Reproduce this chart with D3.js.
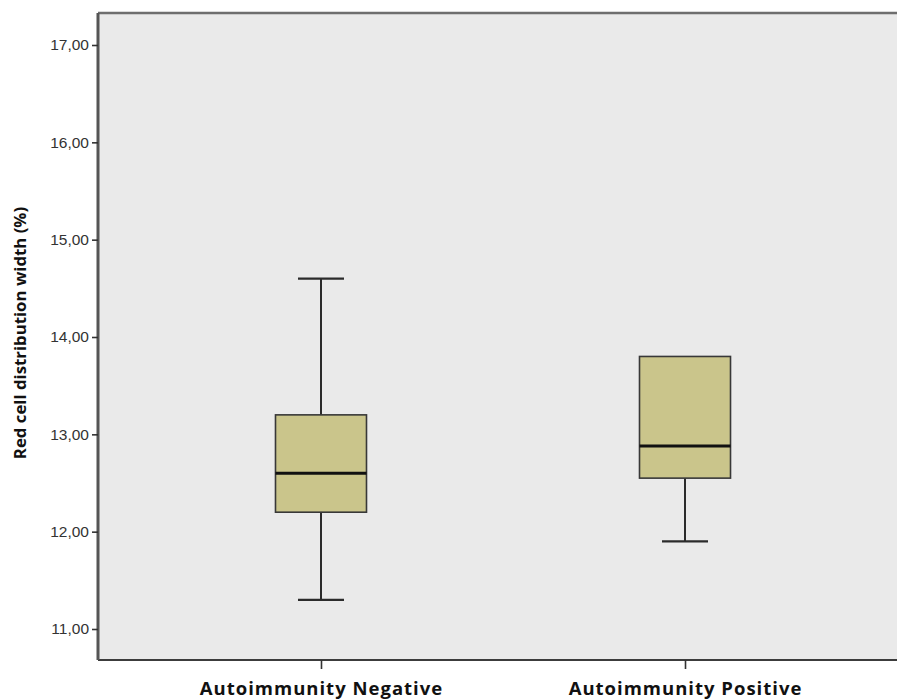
<!DOCTYPE html>
<html>
<head>
<meta charset="utf-8">
<script src="https://cdn.jsdelivr.net/npm/d3@7/dist/d3.min.js"></script>
<style>
  html, body { margin: 0; padding: 0; background: #ffffff; }
  svg { display: block; }
</style>
</head>
<body>
<svg id="chart" width="897" height="700"></svg>
<script>
// Groups and their box-plot summaries (RDW, %)
const categories = ["Autoimmunity Negative", "Autoimmunity Positive"];
const whiskerLow = [11.3, 11.9];
const q1 = [12.2, 12.55];
const median = [12.6, 12.88];
const q3 = [13.2, 13.8];
const whiskerHigh = [14.6, 13.8];
const yTicks = [11, 12, 13, 14, 15, 16, 17];
const yTitle = "Red cell distribution width (%)";

const svg = d3.select("#chart");
const plotL = 98, plotR = 908, plotT = 13, plotB = 660;

const y = d3.scaleLinear().domain([11, 17]).range([629, 45]);
const x = d3.scalePoint().domain(categories).range([plotL, plotR]).padding(0.6126);

const boxW = 91, capW = 46;

// plot background
svg.append("rect")
  .attr("x", plotL).attr("y", plotT)
  .attr("width", plotR - plotL).attr("height", plotB - plotT)
  .attr("fill", "#eaeaea");

// boxes
const data = categories.map((c, i) => ({
  c, lo: whiskerLow[i], q1: q1[i], med: median[i], q3: q3[i], hi: whiskerHigh[i]
}));

const g = svg.append("g");
data.forEach(d => {
  const cx = x(d.c);
  const grp = g.append("g");
  // whiskers
  if (d.hi > d.q3) {
    grp.append("line").attr("x1", cx).attr("x2", cx).attr("y1", y(d.q3)).attr("y2", y(d.hi))
      .attr("stroke", "#2b2b2b").attr("stroke-width", 2);
    grp.append("line").attr("x1", cx - capW / 2).attr("x2", cx + capW / 2).attr("y1", y(d.hi)).attr("y2", y(d.hi))
      .attr("stroke", "#2b2b2b").attr("stroke-width", 2.2);
  }
  if (d.lo < d.q1) {
    grp.append("line").attr("x1", cx).attr("x2", cx).attr("y1", y(d.q1)).attr("y2", y(d.lo))
      .attr("stroke", "#2b2b2b").attr("stroke-width", 2);
    grp.append("line").attr("x1", cx - capW / 2).attr("x2", cx + capW / 2).attr("y1", y(d.lo)).attr("y2", y(d.lo))
      .attr("stroke", "#2b2b2b").attr("stroke-width", 2.2);
  }
  grp.append("rect")
    .attr("x", cx - boxW / 2).attr("y", y(d.q3))
    .attr("width", boxW).attr("height", y(d.q1) - y(d.q3))
    .attr("fill", "#cac58b").attr("stroke", "#383838").attr("stroke-width", 1.6);
  grp.append("line").attr("x1", cx - boxW / 2).attr("x2", cx + boxW / 2)
    .attr("y1", y(d.med)).attr("y2", y(d.med))
    .attr("stroke", "#111").attr("stroke-width", 3);
});

// frame: top border and bottom axis line
svg.append("line").attr("x1", plotL).attr("x2", plotR).attr("y1", plotT).attr("y2", plotT)
  .attr("stroke", "#6e6e6e").attr("stroke-width", 2.5);
svg.append("line").attr("x1", plotL).attr("x2", plotR).attr("y1", plotB).attr("y2", plotB)
  .attr("stroke", "#3c3c3c").attr("stroke-width", 2);

// y axis
const yAxis = d3.axisLeft(y).tickValues(yTicks).tickSize(6).tickPadding(3)
  .tickFormat(d => d3.format(".2f")(d).replace(".", ","));
const ya = svg.append("g").attr("transform", `translate(${plotL},0)`).call(yAxis);
ya.select(".domain").attr("d", `M0,${plotT}V${plotB}`).attr("stroke", "#555").attr("stroke-width", 3);
ya.selectAll(".tick line").attr("stroke", "#333").attr("stroke-width", 1.6);
ya.selectAll(".tick text")
  .attr("font-family", "'Liberation Sans', Arial, sans-serif")
  .attr("font-size", 15.5).attr("fill", "#333");

// x axis
const xAxis = d3.axisBottom(x).tickSize(9).tickPadding(13);
const xa = svg.append("g").attr("transform", `translate(0,${plotB})`).call(xAxis);
xa.select(".domain").remove();
xa.selectAll(".tick line").attr("stroke", "#333").attr("stroke-width", 1.6);
xa.selectAll(".tick text")
  .attr("font-family", "'Open Sans', 'DejaVu Sans', sans-serif")
  .attr("font-weight", "bold").attr("font-size", 18.5)
  .attr("letter-spacing", "1px").attr("fill", "#111");

// y title
svg.append("text")
  .attr("transform", `translate(26,333) rotate(-90)`)
  .attr("text-anchor", "middle")
  .attr("font-family", "'Open Sans', 'DejaVu Sans', sans-serif")
  .attr("font-weight", "bold").attr("font-size", 16.8).attr("fill", "#111")
  .text(yTitle);
</script>
</body>
</html>
